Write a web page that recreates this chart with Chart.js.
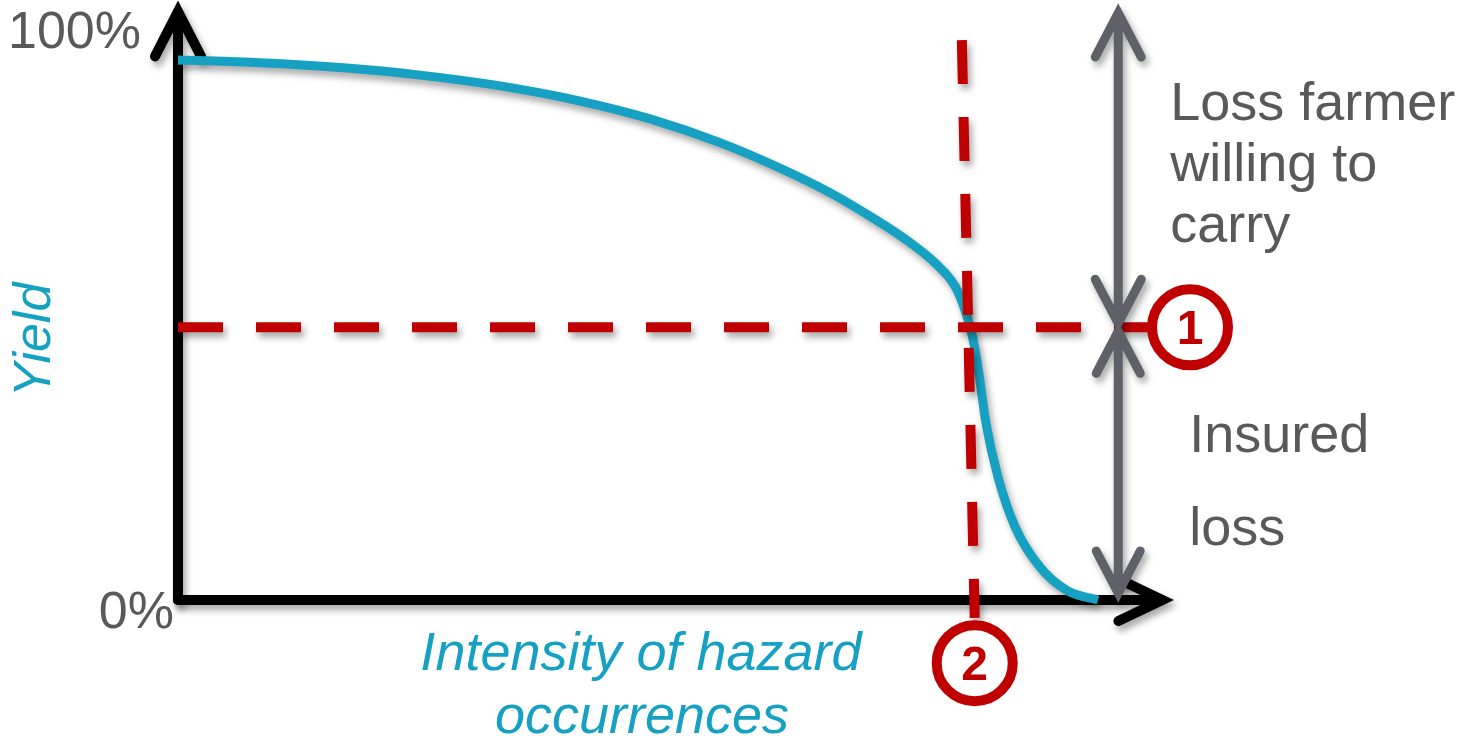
<!DOCTYPE html>
<html>
<head>
<meta charset="utf-8">
<script src="https://cdn.jsdelivr.net/npm/chart.js@4/dist/chart.umd.min.js"></script>
<style>
  html, body { margin: 0; padding: 0; background: #ffffff; }
  #wrap { width: 1460px; height: 745px; position: relative; }
</style>
</head>
<body>
<div id="wrap"><canvas id="c" width="1460" height="745"></canvas></div>
<script>
// Yield curve: yield (%) as hazard intensity grows
const intensity = [0, 8.9, 17.6, 26.3, 35, 43.7, 51.3, 58.9, 65.4, 70.9, 75.2, 79, 82.3, 84.5, 85.5, 86.3, 87, 87.8, 89.1, 91, 93.7, 96.7, 100];
const yieldPct  = [100, 99.5, 98.6, 97.2, 95.2, 92.4, 89.1, 84.7, 80, 75.4, 71.1, 66.9, 62.4, 58, 53.9, 49.2, 42.6, 33, 23, 13.5, 6.1, 1.7, 0];

// Trigger level (1): yield threshold, drawn across the plot
const triggerYield = 50.5;
const triggerYieldSpan = [0, 105.7];
// Trigger level (2): intensity threshold (slightly slanted guide)
const triggerIntensity = [85.2, 86.6];
const triggerIntensitySpan = [103.7, -3.3];

// Axis extents (arrow tips) in data units
const axisXEnd = 107;
const axisYEnd = 109;

// Loss bracket arrows
const bracketX = 102.2;
const carryRange = [triggerYield, 108.7];
const insuredRange = [1.3, triggerYield];

// Numbered markers: [x, y, label]
const markers = [
  [110, triggerYield, '1'],
  [86.6, -11.7, '2']
];

const tickLabels = ['100%', '0%'];
const xTitle = ['Intensity of hazard', 'occurrences'];
const yTitle = 'Yield';
const carryLabel = ['Loss farmer', 'willing to', 'carry'];
const insuredLabel = ['Insured', 'loss'];

const COL = {
  teal: '#16a1c2',
  red: '#c00000',
  gray: '#5f6068',
  text: '#595959',
  black: '#000000'
};
const FONT = '"Liberation Sans", Arial, "DejaVu Sans", sans-serif';

function setShadow(ctx) {
  ctx.shadowColor = 'rgba(0,0,0,0.35)';
  ctx.shadowBlur = 7;
  ctx.shadowOffsetX = 3;
  ctx.shadowOffsetY = 5;
}
function clearShadow(ctx) {
  ctx.shadowColor = 'rgba(0,0,0,0)';
  ctx.shadowBlur = 0;
  ctx.shadowOffsetX = 0;
  ctx.shadowOffsetY = 0;
}

// Open chevron head with its tip at (tx,ty), pointing along (ux,uy)
function head(ctx, tx, ty, ux, uy, len, half) {
  const bx = tx - len * ux, by = ty - len * uy;
  ctx.moveTo(bx - half * uy, by + half * ux);
  ctx.lineTo(tx, ty);
  ctx.lineTo(bx + half * uy, by - half * ux);
}

// Shaft from (x0,y0) to (x1,y1); heads at the ends flagged in `ends`
function arrow(ctx, x0, y0, x1, y1, ends, len, half, color, width) {
  const d = Math.hypot(x1 - x0, y1 - y0);
  const ux = (x1 - x0) / d, uy = (y1 - y0) / d;
  ctx.strokeStyle = color;
  ctx.lineWidth = width;
  ctx.lineCap = 'round';
  ctx.lineJoin = 'miter';
  ctx.beginPath();
  ctx.moveTo(x0, y0);
  ctx.lineTo(x1, y1);
  if (ends.end) head(ctx, x1, y1, ux, uy, len, half);
  if (ends.start) head(ctx, x0, y0, -ux, -uy, len, half);
  ctx.stroke();
}

const diagramPlugin = {
  id: 'diagram',
  beforeDatasetsDraw(chart) {
    const { ctx, scales: { x, y } } = chart;
    const x0 = x.getPixelForValue(0), y0 = y.getPixelForValue(0);
    ctx.save();
    setShadow(ctx);
    // axes with arrow heads
    arrow(ctx, x0, y0, x0, y.getPixelForValue(axisYEnd), { end: true }, 45, 23, COL.black, 10);
    arrow(ctx, x0, y0, x.getPixelForValue(axisXEnd), y0, { end: true }, 44, 21, COL.black, 10);
    ctx.restore();
  },
  beforeDatasetDraw(chart) {
    setShadow(chart.ctx);
  },
  afterDatasetDraw(chart) {
    clearShadow(chart.ctx);
  },
  afterDatasetsDraw(chart) {
    const { ctx, scales: { x, y } } = chart;
    clearShadow(ctx);
    ctx.save();
    setShadow(ctx);
    // loss brackets (double-headed)
    const bx = x.getPixelForValue(bracketX);
    const cTop = y.getPixelForValue(carryRange[1]);
    const cBot = y.getPixelForValue(carryRange[0]) - 4;
    arrow(ctx, bx, cTop, bx, cBot, { start: true, end: true }, 44, 23, COL.gray, 9);
    const iTop = y.getPixelForValue(insuredRange[1]) + 4;
    const iBot = y.getPixelForValue(insuredRange[0]);
    arrow(ctx, bx, iTop, bx, iBot, { start: true, end: true }, 42, 22, COL.gray, 9);
    ctx.restore();

    // numbered markers
    markers.forEach(([mx, my, label]) => {
      const px = x.getPixelForValue(mx), py = y.getPixelForValue(my);
      ctx.save();
      ctx.beginPath();
      ctx.arc(px, py, 38, 0, Math.PI * 2);
      ctx.fillStyle = '#ffffff';
      ctx.fill();
      ctx.lineWidth = 10;
      ctx.strokeStyle = COL.red;
      ctx.stroke();
      ctx.fillStyle = COL.red;
      ctx.font = 'bold 48px ' + FONT;
      ctx.textAlign = 'center';
      ctx.textBaseline = 'alphabetic';
      ctx.fillText(label, px, py + 17);
      ctx.restore();
    });

    // texts
    const xl = x.getPixelForValue(0);
    ctx.save();
    ctx.fillStyle = COL.text;
    ctx.font = '52px ' + FONT;
    ctx.textAlign = 'right';
    ctx.textBaseline = 'alphabetic';
    ctx.fillText(tickLabels[0], xl - 37, y.getPixelForValue(100) - 12);
    ctx.fillText(tickLabels[1], xl - 4, y.getPixelForValue(0) + 28);

    ctx.font = '54px ' + FONT;
    ctx.textAlign = 'left';
    carryLabel.forEach((t, i) => ctx.fillText(t, bx + 52, 120 + i * 61));
    ctx.fillText(insuredLabel[0], bx + 71, 452);
    ctx.fillText(insuredLabel[1], bx + 71, 545);

    ctx.fillStyle = COL.teal;
    ctx.font = 'italic 54px ' + FONT;
    ctx.textAlign = 'center';
    ctx.fillText(xTitle[0], 641, 670);
    ctx.fillText(xTitle[1], 642, 733);

    ctx.translate(50, 340);
    ctx.rotate(-Math.PI / 2);
    ctx.font = 'italic 52px ' + FONT;
    ctx.fillText(yTitle, 0, 0);
    ctx.restore();
  }
};

const curve = intensity.map((v, i) => ({ x: v, y: yieldPct[i] }));

new Chart(document.getElementById('c'), {
  type: 'scatter',
  data: {
    datasets: [
      {
        label: 'Trigger yield',
        data: [{ x: triggerYieldSpan[0], y: triggerYield }, { x: triggerYieldSpan[1], y: triggerYield }],
        showLine: true,
        borderColor: COL.red,
        borderWidth: 10,
        borderDash: [45, 33],
        borderCapStyle: 'butt',
        pointRadius: 0,
        tension: 0,
        clip: false,
        order: 1
      },
      {
        label: 'Trigger intensity',
        data: [{ x: triggerIntensity[0], y: triggerIntensitySpan[0] }, { x: triggerIntensity[1], y: triggerIntensitySpan[1] }],
        showLine: true,
        borderColor: COL.red,
        borderWidth: 10,
        borderDash: [44, 33],
        borderCapStyle: 'butt',
        pointRadius: 0,
        tension: 0,
        clip: false,
        order: 1
      },
      {
        label: 'Yield',
        data: curve,
        showLine: true,
        borderColor: COL.teal,
        borderWidth: 9,
        borderCapStyle: 'butt',
        pointRadius: 0,
        cubicInterpolationMode: 'monotone',
        clip: false,
        order: 2
      }
    ]
  },
  options: {
    responsive: false,
    devicePixelRatio: 1,
    animation: false,
    layout: { padding: { left: 178, right: 362, top: 60, bottom: 145 } },
    scales: {
      x: { type: 'linear', min: 0, max: 100, display: false },
      y: { type: 'linear', min: 0, max: 100, display: false }
    },
    plugins: {
      legend: { display: false },
      tooltip: { enabled: false }
    }
  },
  plugins: [diagramPlugin]
});
</script>
</body>
</html>
